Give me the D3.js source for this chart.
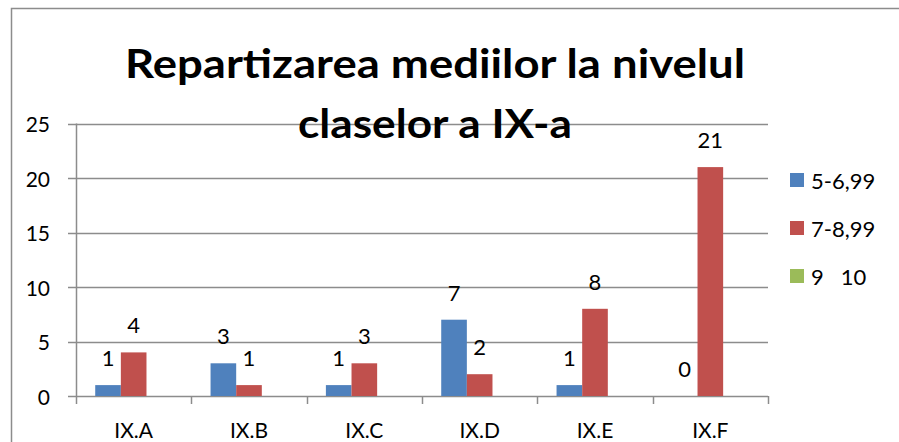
<!DOCTYPE html>
<html>
<head>
<meta charset="utf-8">
<script src="https://cdn.jsdelivr.net/npm/d3@7"></script>
<style>
  body { margin: 0; background: #ffffff; }
  text { font-family: Lato, "Open Sans", sans-serif; fill: #000; }
</style>
</head>
<body>
<script>
const width = 899;
const height = 442;

// data
const classes = ["IX.A", "IX.B", "IX.C", "IX.D", "IX.E", "IX.F"];
const seriesNames = ["5-6,99", "7-8,99", "9   10"];
const seriesColors = ["#4F81BD", "#C0504D", "#9BBB59"];
const low = [1, 3, 1, 7, 1, 0];
const mid = [4, 1, 3, 2, 8, 21];
const high = [0, 0, 0, 0, 0, 0];
const showLabels = [true, true, false];
const yTicks = [0, 5, 10, 15, 20, 25];
const titleLines = ["Repartizarea mediilor la nivelul", "claselor a IX-a"];

const values = [low, mid, high];

const svg = d3.select("body").append("svg")
    .attr("width", width)
    .attr("height", height);

// chart border
svg.append("rect")
    .attr("x", 11.5)
    .attr("y", 8.5)
    .attr("width", 900)
    .attr("height", 450)
    .attr("fill", "none")
    .attr("stroke", "#8c8c8c")
    .attr("stroke-width", 1.5);

const plotLeft = 76, plotRight = 768, plotTop = 123.5, plotBottom = 396;

const x = d3.scaleBand()
    .domain(classes)
    .range([plotLeft, plotRight]);

const xs = d3.scaleBand()
    .domain(d3.range(seriesNames.length))
    .range([0, x.bandwidth()])
    .paddingOuter(0.75);

const y = d3.scaleLinear()
    .domain([0, 25])
    .range([plotBottom, plotTop]);

//gridlines + y tick marks
svg.append("g").selectAll("line")
    .data(yTicks)
    .join("line")
    .attr("x1", plotLeft - 8)
    .attr("x2", plotRight)
    .attr("y1", d => Math.round(y(d)) + 0.5)
    .attr("y2", d => Math.round(y(d)) + 0.5)
    .attr("stroke", "#8c8c8c")
    .attr("stroke-width", 1.5);

svg.append("g").selectAll("text")
    .data(yTicks)
    .join("text")
    .attr("x", 50)
    .attr("y", d => y(d))
    .attr("text-anchor", "end")
    .attr("dominant-baseline", "central")
    .style("font-size", "21px")
    .text(d => d);

// y axis line
svg.append("line")
    .attr("x1", plotLeft + 0.5)
    .attr("x2", plotLeft + 0.5)
    .attr("y1", plotTop)
    .attr("y2", plotBottom + 8)
    .attr("stroke", "#8c8c8c")
    .attr("stroke-width", 1.5);

// category ticks
const boundaries = classes.map(c => x(c) + x.bandwidth());
svg.append("g").selectAll("line")
    .data(boundaries)
    .join("line")
    .attr("x1", d => Math.round(d) + 0.5)
    .attr("x2", d => Math.round(d) + 0.5)
    .attr("y1", plotBottom)
    .attr("y2", plotBottom + 8)
    .attr("stroke", "#8c8c8c")
    .attr("stroke-width", 1.5);

svg.append("g").selectAll("text")
    .data(classes)
    .join("text")
    .attr("x", d => x(d) + x.bandwidth() / 2)
    .attr("y", 438)
    .attr("text-anchor", "middle")
    .style("font-size", "21px")
    .text(d => d);

// bars
values.forEach((vals, s) => {
    const g = svg.append("g");
    g.selectAll("rect")
        .data(vals)
        .join("rect")
        .attr("x", (d, i) => x(classes[i]) + xs(s))
        .attr("y", d => y(d))
        .attr("width", xs.bandwidth())
        .attr("height", d => y(0) - y(d))
        .attr("fill", seriesColors[s]);

    if (showLabels[s]) {
        g.selectAll("text")
            .data(vals)
            .join("text")
            .attr("x", (d, i) => x(classes[i]) + xs(s) + xs.bandwidth() / 2)
            .attr("y", d => y(d) - 19)
            .attr("text-anchor", "middle")
            .style("font-size", "22px")
            .text(d => d);
    }
});

// title
const titleWidths = [620, 274];
svg.append("g").selectAll("text")
    .data(titleLines)
    .join("text")
    .attr("x", 435)
    .attr("y", (d, i) => 78 + i * 60)
    .attr("text-anchor", "middle")
    .attr("textLength", (d, i) => titleWidths[i])
    .attr("lengthAdjust", "spacingAndGlyphs")
    .style("font-size", "40px")
    .style("font-weight", "bold")
    .text(d => d);

// legend
const legend = svg.append("g").selectAll("g")
    .data(seriesNames)
    .join("g")
    .attr("transform", (d, i) => `translate(790, ${180 + i * 48})`);

legend.append("rect")
    .attr("x", 0)
    .attr("y", -7)
    .attr("width", 14)
    .attr("height", 14)
    .attr("fill", (d, i) => seriesColors[i]);

legend.append("text")
    .attr("x", 21)
    .attr("y", 0)
    .attr("dominant-baseline", "central")
    .style("font-size", "22px")
    .style("white-space", "pre")
    .attr("xml:space", "preserve")
    .text(d => d);
</script>
</body>
</html>
